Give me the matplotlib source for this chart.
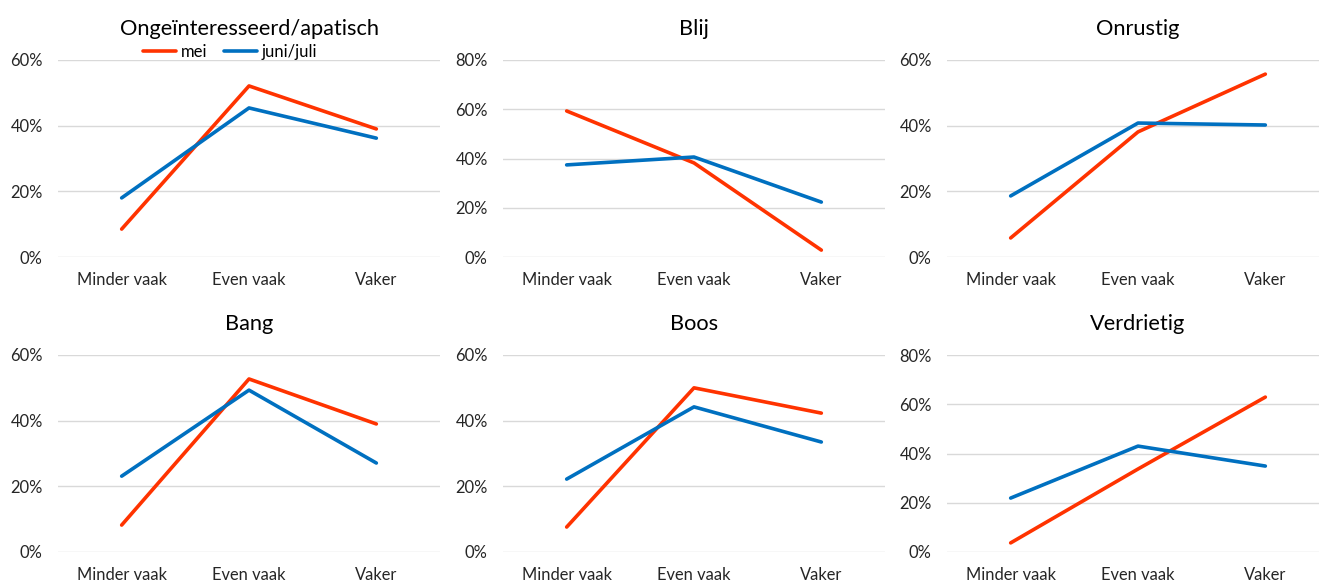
import matplotlib.pyplot as plt
from matplotlib.ticker import PercentFormatter

plt.rcParams['font.family'] = ['Lato', 'DejaVu Sans']

# Data (fractions)
categories = ['Minder vaak', 'Even vaak', 'Vaker']
titles = ['Ongeïnteresseerd/apatisch', 'Blij', 'Onrustig', 'Bang', 'Boos', 'Verdrietig']
mei = [
    [0.085, 0.521, 0.390],
    [0.593, 0.382, 0.028],
    [0.058, 0.381, 0.557],
    [0.082, 0.527, 0.390],
    [0.076, 0.500, 0.423],
    [0.037, 0.337, 0.629],
]
juni_juli = [
    [0.180, 0.454, 0.362],
    [0.374, 0.406, 0.223],
    [0.186, 0.408, 0.402],
    [0.231, 0.493, 0.271],
    [0.222, 0.442, 0.335],
    [0.219, 0.430, 0.349],
]
y_max = [0.6, 0.8, 0.6, 0.6, 0.6, 0.8]

red = '#FF3300'
blue = '#0070C0'

W, H = 1319, 583
fig = plt.figure(figsize=(W / 100, H / 100), dpi=100)

lefts = [58, 503, 947]
tops = [60, 355]
pw, ph = 382, 197

for i in range(6):
    r, c = divmod(i, 3)
    ax = fig.add_axes([lefts[c] / W, 1 - (tops[r] + ph) / H, pw / W, ph / H])
    x = range(len(categories))
    l1, = ax.plot(x, mei[i], color=red, lw=2.6, solid_capstyle='round', label='mei')
    l2, = ax.plot(x, juni_juli[i], color=blue, lw=2.6, solid_capstyle='round', label='juni/juli')
    ax.set_xlim(-0.5, 2.5)
    ax.set_ylim(0, y_max[i])
    ax.set_yticks([k * 0.2 for k in range(int(round(y_max[i] / 0.2)) + 1)])
    ax.yaxis.set_major_formatter(PercentFormatter(1.0, decimals=0))
    ax.set_xticks(list(x))
    ax.set_xticklabels(categories)
    ax.grid(axis='y', color='#D9D9D9', lw=1)
    ax.set_axisbelow(True)
    for s in ax.spines.values():
        s.set_visible(False)
    ax.tick_params(length=0, labelsize=11.9, colors='#262626')
    ax.tick_params(axis='x', pad=11)
    ax.tick_params(axis='y', pad=11)
    ax.set_title(titles[i], fontsize=15.7, color='black', pad=18)
    if i == 0:
        ax.legend(handles=[l1, l2], loc='lower center', bbox_to_anchor=(0.45, 0.965),
                  ncol=2, frameon=False, fontsize=12, handlelength=2.0,
                  handletextpad=0.25, columnspacing=1.0, borderaxespad=0)

fig.savefig('out.png', dpi=100)
